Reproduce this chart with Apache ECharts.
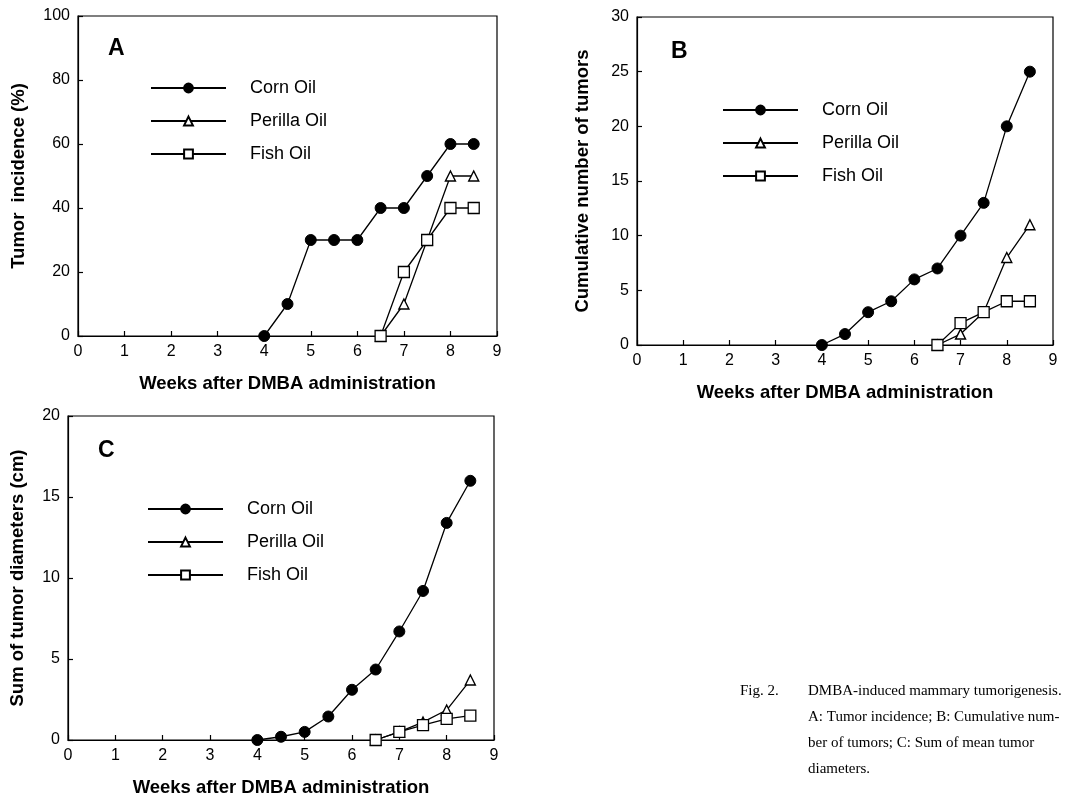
<!DOCTYPE html>
<html>
<head>
<meta charset="utf-8">
<script src="https://cdn.jsdelivr.net/npm/echarts@6/dist/echarts.min.js"></script>
<style>html,body{margin:0;padding:0;background:#fff;}#c{width:1065px;height:798px;}</style>
</head>
<body>
<div id="c"></div>
<script>
// ---- data ----
var cornWeeks = [4, 4.5, 5, 5.5, 6, 6.5, 7, 7.5, 8, 8.5];
var lateWeeks = [6.5, 7, 7.5, 8, 8.5];
var seriesNames = ['Corn Oil', 'Perilla Oil', 'Fish Oil'];

var incidenceCorn = [0, 10, 30, 30, 30, 40, 40, 50, 60, 60];
var incidencePerilla = [0, 10, 30, 50, 50];
var incidenceFish = [0, 20, 30, 40, 40];

var cumulativeCorn = [0, 1, 3, 4, 6, 7, 10, 13, 20, 25];
var cumulativePerilla = [0, 1, 3, 8, 11];
var cumulativeFish = [0, 2, 3, 4, 4];

var diameterCorn = [0, 0.2, 0.5, 1.45, 3.1, 4.35, 6.7, 9.2, 13.4, 16.0];
var diameterPerilla = [0, 0.5, 1.1, 1.85, 3.7];
var diameterFish = [0, 0.5, 0.92, 1.3, 1.5];

var xTicks = [0, 1, 2, 3, 4, 5, 6, 7, 8, 9];
var panelLetters = ['A', 'B', 'C'];
var yTitles = ['Tumor  incidence (%)', 'Cumulative number of tumors', 'Sum of tumor diameters (cm)'];
var xTitle = 'Weeks after DMBA administration';
var captionLabel = 'Fig. 2.';
var captionLines = ['DMBA-induced mammary tumorigenesis.', 'A: Tumor incidence; B: Cumulative num-', 'ber of tumors; C: Sum of mean tumor', 'diameters.'];

// ---- build ----
function pairs(xs, ys) { return xs.map(function (x, i) { return [x, ys[i]]; }); }

var sans = 'Liberation Sans, Arial, Helvetica, sans-serif';
var grids = [
  { left: 78, top: 16, width: 419, height: 320 },
  { left: 637, top: 17, width: 416, height: 328 },
  { left: 68, top: 416, width: 426, height: 327 }
];
var yMax = [100, 30, 20];
var yInt = [20, 5, 5];
var yNameGap = [50, 45, 41];
var legendPos = [
  { left: 145, top: 74 },
  { left: 717, top: 96 },
  { left: 142, top: 495 }
];
var letterPos = [[108, 50], [671, 53], [98, 452]];

var allData = [
  [incidenceCorn, incidencePerilla, incidenceFish],
  [cumulativeCorn, cumulativePerilla, cumulativeFish],
  [diameterCorn, diameterPerilla, diameterFish]
];

var xAxes = [], yAxes = [], series = [], legends = [], graphics = [];
grids.forEach(function (g, k) {
  g.show = true; g.borderColor = '#000'; g.borderWidth = 1.2; g.backgroundColor = 'transparent';
  xAxes.push({
    type: 'value', gridIndex: k, min: 0, max: 9, interval: 1,
    name: xTitle, nameLocation: 'middle', nameGap: 38,
    nameTextStyle: { fontFamily: sans, fontWeight: 'bold', fontSize: 18.5, color: '#000' },
    axisLine: { show: true, lineStyle: { color: '#000', width: 1.2 } },
    axisTick: { show: true, inside: true, length: 5, lineStyle: { color: '#000', width: 1.2 }, customValues: xTicks },
    axisLabel: { fontFamily: sans, fontSize: 16, color: '#000', margin: 8, customValues: xTicks },
    splitLine: { show: false }
  });
  yAxes.push({
    type: 'value', gridIndex: k, min: 0, max: yMax[k], interval: yInt[k],
    name: yTitles[k], nameLocation: 'middle', nameGap: yNameGap[k],
    nameTextStyle: { fontFamily: sans, fontWeight: 'bold', fontSize: 18.5, color: '#000' },
    axisLine: { show: true, lineStyle: { color: '#000', width: 1.2 } },
    axisTick: { show: true, inside: true, length: 5, lineStyle: { color: '#000', width: 1.2 } },
    axisLabel: { fontFamily: sans, fontSize: 16, color: '#000', margin: 8 },
    splitLine: { show: false }
  });
  var d = allData[k];
  var base = { type: 'line', xAxisIndex: k, yAxisIndex: k, animation: false,
    lineStyle: { color: '#000', width: 1.3 }, emphasis: { disabled: true } };
  series.push(Object.assign({}, base, { name: seriesNames[0], data: pairs(cornWeeks, d[0]), symbol: 'circle', symbolSize: 11,
    itemStyle: { color: '#000', borderColor: '#000', borderWidth: 1 }, z: 3 }));
  series.push(Object.assign({}, base, { name: seriesNames[1], data: pairs(lateWeeks, d[1]), symbol: 'triangle', symbolSize: 10,
    itemStyle: { color: '#fff', borderColor: '#000', borderWidth: 1.4 }, z: 4 }));
  series.push(Object.assign({}, base, { name: seriesNames[2], data: pairs(lateWeeks, d[2]), symbol: 'rect', symbolSize: 11,
    itemStyle: { color: '#fff', borderColor: '#000', borderWidth: 1.3 }, z: 5 }));
  legends.push({
    orient: 'vertical', left: legendPos[k].left, top: legendPos[k].top,
    itemWidth: 75, itemHeight: 11, itemGap: 15, selectedMode: false,
    data: seriesNames,
    textStyle: { fontFamily: sans, fontSize: 18, color: '#000', padding: [0, 0, 0, 19] }
  });
  graphics.push({ type: 'text', left: letterPos[k][0], top: letterPos[k][1] - 13,
    style: { text: panelLetters[k], font: 'bold 23px ' + sans, fill: '#000' } });
});

var serif = 'Liberation Serif, Times New Roman, serif';
graphics.push({ type: 'text', left: 740, top: 684, style: { text: captionLabel, font: '15px ' + serif, fill: '#000' } });
captionLines.forEach(function (t, i) {
  graphics.push({ type: 'text', left: 808, top: 684 + i * 26, style: { text: t, font: '15px ' + serif, fill: '#000' } });
});

var chart = echarts.init(document.getElementById('c'), null, { renderer: 'canvas' });
chart.setOption({
  backgroundColor: '#fff',
  animation: false,
  grid: grids,
  xAxis: xAxes,
  yAxis: yAxes,
  legend: legends,
  series: series,
  graphic: graphics
});
</script>
</body>
</html>
